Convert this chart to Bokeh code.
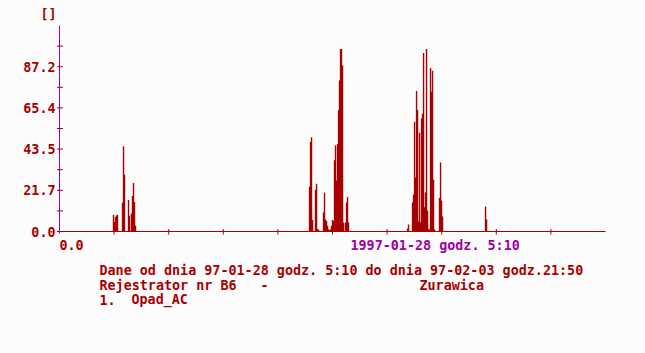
from bokeh.plotting import figure
from bokeh.models import Range1d
from bokeh.core.properties import value
from bokeh.embed import file_html
from bokeh.resources import INLINE

RED = "#A80000"
PURPLE = "#A000A0"
BG = "#FCFCFC"
FONT = "DejaVu Sans Mono"
FSIZE = "13.4px"

# time axis: hours since 97-01-28 5:10 up to 97-02-03 21:50
TOTAL_H = 160.67
Y_MAX = 109.0

# precipitation samples (hours since start, value)
c1_hours = [15.89, 16.19, 16.48, 16.77, 17.07, 18.54, 18.84, 19.13, 20.31, 20.60,
            21.19, 21.48, 21.78, 22.07, 22.37]
c1_vals = [8.8, 5.0, 7.7, 8.4, 8.8, 15.2, 45.1, 30.0, 16.7, 8.3,
           9.5, 18.8, 25.6, 15.6, 3.0]

c2_hours = [73.58, 73.87, 74.16, 74.46, 75.34, 75.64, 75.93, 76.22, 77.70, 77.99,
            78.28, 78.58, 78.87, 79.17, 79.46, 79.76, 80.05, 80.34, 80.64, 80.93,
            81.23, 81.52, 81.82, 82.11, 82.40, 82.70, 82.99, 83.29, 83.58, 84.17,
            84.47, 84.76, 85.05]
c2_vals = [23.7, 47.4, 49.9, 6.1, 21.9, 25.3, 1.2, 1.0, 10.0, 20.5,
           6.5, 5.6, 3.0, 1.2, 0.7, 1.2, 3.0, 6.1, 5.6, 37.7,
           45.6, 27.0, 46.3, 64.1, 79.9, 96.5, 96.5, 87.8, 4.7, 4.7,
           15.3, 18.3, 4.7]

c3_hours = [102.42, 102.71, 103.89, 104.18, 104.48, 104.77, 105.07, 105.36, 105.65, 105.95,
            106.24, 106.54, 106.83, 107.13, 107.42, 107.71, 108.01, 108.30, 108.60, 108.89,
            109.19, 109.48, 109.77, 110.07, 110.36, 111.83, 112.13, 112.42, 112.72]
c3_vals = [1.6, 3.7, 15.3, 19.5, 58.1, 28.6, 74.3, 64.3, 5.4, 52.3,
           4.9, 59.8, 62.3, 94.4, 12.8, 20.7, 96.5, 11.1, 1.4, 0.9,
           86.5, 73.9, 85.1, 27.4, 1.0, 17.7, 36.5, 16.3, 7.9]

c4_hours = [125.37, 125.67]
c4_vals = [13.2, 6.3]

hours = c1_hours + c2_hours + c3_hours + c4_hours
values = c1_vals + c2_vals + c3_vals + c4_vals

y_ticks = [0.0, 21.8, 43.6, 65.4, 87.2]
y_minor = [10.9, 32.7, 54.5, 76.3, 98.1]
y_labels = ["0.0", "21.7", "43.5", "65.4", "87.2"]
x_ticks = [TOTAL_H / 10 * k for k in range(1, 10)]

info_line1 = "Dane od dnia 97-01-28 godz. 5:10 do dnia 97-02-03 godz.21:50"
info_reg = "Rejestrator nr B6"
info_dash = "-"
info_place = "Zurawica"
info_num = "1."
info_name = "Opad_AC"
start_label = "1997-01-28 godz. 5:10"
unit_label = "[]"
origin_label = "0.0"

W, H = 645, 353
# pixel placement of the data area inside the page
PX0, PX1 = 59.0, 605.0
PY0, PY1 = 231.0, 25.0


def hx(px):
    return (px - PX0) / (PX1 - PX0) * TOTAL_H


def vy(py):
    return (PY0 - py) / (PY0 - PY1) * Y_MAX


p = figure(width=W, height=H, output_backend="svg", toolbar_location=None,
           x_range=Range1d(hx(0), hx(W)), y_range=Range1d(vy(H), vy(0)),
           x_axis_location=None, y_axis_location=None,
           min_border=0, background_fill_color=BG, border_fill_color=BG,
           outline_line_color=None)
p.xgrid.visible = False
p.ygrid.visible = False

# spikes
p.segment(x0=hours, y0=[0] * len(values), x1=hours, y1=values,
          line_color=RED, line_width=1.4)

# x axis
p.segment(x0=[0], y0=[0], x1=[TOTAL_H], y1=[0], line_color=RED, line_width=1)
p.segment(x0=x_ticks, y0=[vy(228.5)] * len(x_ticks), x1=x_ticks, y1=[vy(234)] * len(x_ticks),
          line_color=RED, line_width=1)

# y axis
all_y = y_ticks + y_minor
p.segment(x0=[hx(56.5)] * len(all_y), y0=all_y, x1=[hx(62.5)] * len(all_y), y1=all_y,
          line_color=RED, line_width=1)
p.segment(x0=[0], y0=[vy(233)], x1=[0], y1=[Y_MAX], line_color=PURPLE, line_width=1)

p.text(x=[hx(55)] * len(y_ticks), y=y_ticks, text=y_labels, text_color=RED,
       text_font=value(FONT), text_font_style="bold", text_font_size=FSIZE,
       text_align="right", text_baseline="middle")


def lab(texts, pxs, py, color=RED):
    p.text(x=[hx(px) for px in pxs], y=[vy(py)] * len(texts), text=texts, text_color=color,
           text_font=value(FONT), text_font_style="bold", text_font_size=FSIZE,
           text_align="left", text_baseline="middle")


lab([unit_label], [40], 13.5)
lab([origin_label], [59], 244.5)
lab([start_label], [350], 245, PURPLE)
lab([info_line1], [99], 269.5)
lab([info_reg, info_dash, info_place], [99, 260, 419], 284.5)
lab([info_num, info_name], [99, 131], 299.3)

open("out.html", "w").write(file_html(p, INLINE))
